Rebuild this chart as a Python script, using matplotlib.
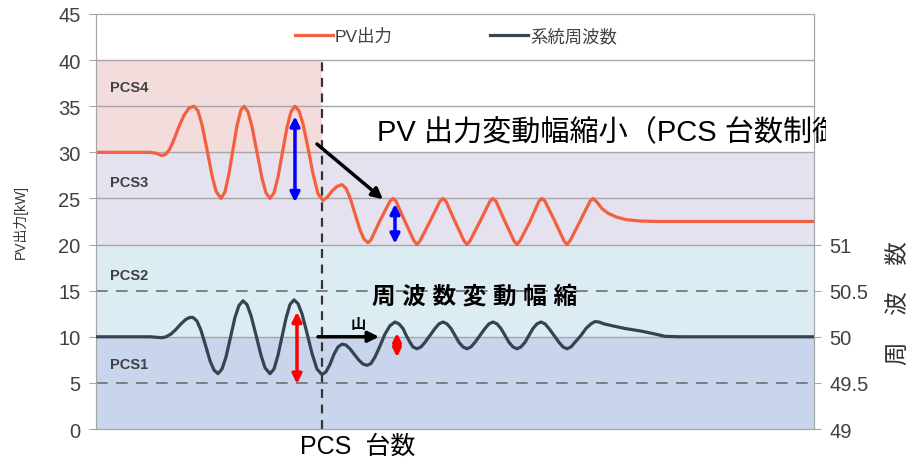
import matplotlib
matplotlib.use("Agg")
import matplotlib.pyplot as plt
from matplotlib.transforms import Bbox

plt.rcParams["font.family"] = ["Liberation Sans", "Noto Sans CJK JP", "DejaVu Sans"]

# time axis (arbitrary units) and PV output [kW]
pv_t = [0, 54, 60, 66, 70, 74, 78, 83, 88, 93,
        98, 102, 106, 111, 116, 120, 125, 129, 133, 137,
        141, 145, 148, 152, 156, 161, 166, 170, 174, 178,
        182, 187, 191, 195, 199, 203, 207, 212, 217, 222,
        227, 231, 236, 241, 246, 250, 254, 259, 264, 268,
        272, 275, 284, 294, 297, 300, 309, 318, 321, 324,
        334, 344, 347, 350, 359, 368, 371, 374, 384, 394,
        397, 400, 409, 418, 421, 424, 434, 443, 446, 449,
        459, 468, 471, 474, 484, 494, 497, 501, 506, 512,
        520, 530, 544, 564, 718]
pv_kw = [30, 30, 29.9, 29.65, 29.8, 30.4, 31.4, 32.8, 34.0, 34.8,
         35, 34.5, 33.0, 30.3, 27.5, 25.8, 25, 25.7, 27.7, 30.3,
         32.9, 34.6, 35, 34.4, 32.8, 30, 27.2, 25.6, 25, 25.6,
         27.3, 30.3, 32.7, 34.4, 35, 34.5, 33.1, 30.5, 27.7, 25.5,
         24.8, 25.1, 25.8, 26.3, 26.5, 26.1, 25.1, 23.35, 21.6, 20.6,
         20.2, 20.5, 22.6, 24.7, 25, 24.7, 22.5, 20.4, 20, 20.4,
         22.5, 24.7, 25, 24.7, 22.5, 20.4, 20, 20.4, 22.5, 24.7,
         25, 24.7, 22.5, 20.4, 20, 20.4, 22.5, 24.7, 25, 24.7,
         22.5, 20.4, 20, 20.4, 22.5, 24.7, 25, 24.6, 23.9, 23.4,
         23.0, 22.7, 22.55, 22.5, 22.5]

# system frequency [Hz]
fq_t = [0, 54, 60, 66, 70, 75, 80, 85, 90, 94,
        97, 101, 105, 110, 114, 118, 122, 126, 130, 134,
        139, 143, 147, 151, 155, 160, 165, 169, 174, 178,
        182, 186, 190, 194, 198, 202, 206, 211, 216, 221,
        226, 230, 234, 238, 242, 246, 250, 254, 259, 263,
        267, 271, 275, 279, 284, 289, 294, 299, 303, 307,
        310, 314, 317, 321, 325, 329, 334, 339, 343, 347,
        351, 355, 359, 363, 367, 371, 375, 379, 384, 389,
        393, 397, 401, 405, 409, 413, 417, 421, 425, 429,
        433, 437, 441, 445, 449, 453, 458, 463, 467, 471,
        475, 479, 485, 490, 495, 499, 503, 508, 516, 529,
        546, 559, 569, 584, 718]
fq_hz = [50, 50, 49.995, 49.99, 50.0, 50.03, 50.08, 50.14, 50.19, 50.21,
         50.21, 50.17, 50.07, 49.89, 49.74, 49.64, 49.6, 49.65, 49.78, 49.97,
         50.21, 50.34, 50.39, 50.35, 50.23, 50.02, 49.8, 49.665, 49.6, 49.65,
         49.8, 50.0, 50.2, 50.35, 50.4, 50.36, 50.25, 50.04, 49.82, 49.65,
         49.59, 49.62, 49.70, 49.81, 49.89, 49.92, 49.91, 49.87, 49.80, 49.745,
         49.705, 49.69, 49.71, 49.78, 49.90, 50.03, 50.12, 50.16, 50.14, 50.09,
         50.02, 49.94, 49.89, 49.87, 49.89, 49.94, 50.015, 50.09, 50.14, 50.16,
         50.14, 50.09, 50.015, 49.94, 49.89, 49.87, 49.89, 49.94, 50.015, 50.09,
         50.14, 50.16, 50.14, 50.09, 50.015, 49.94, 49.89, 49.87, 49.89, 49.94,
         50.015, 50.09, 50.14, 50.16, 50.14, 50.09, 50.015, 49.94, 49.89, 49.87,
         49.89, 49.94, 50.015, 50.09, 50.14, 50.165, 50.16, 50.14, 50.12, 50.09,
         50.06, 50.03, 50.005, 50.0, 50.0]

left_ticks = [0, 5, 10, 15, 20, 25, 30, 35, 40, 45]
right_ticks = [49, 49.5, 50, 50.5, 51]
right_labels = ["49", "49.5", "50", "50.5", "51"]
pcs_labels = ["PCS1", "PCS2", "PCS3", "PCS4"]
pcs_label_y = [7, 16.7, 26.8, 37.1]
t_switch = 226

fig = plt.figure(figsize=(9.15, 4.77), dpi=100)
ax = fig.add_axes([0.1049, 0.0985, 0.7847, 0.8701])
ax2 = ax.twinx()

ax.set_xlim(0, 718)
ax.set_ylim(0, 45)
ax2.set_ylim(49, 53.5)

# PCS bands
ax.axhspan(0, 10, color="#c8d5ec", lw=0, zorder=0)
ax.axhspan(10, 20, color="#dcecf3", lw=0, zorder=0)
ax.axhspan(20, 30, color="#e6e1ee", lw=0, zorder=0)
ax.fill_between([0, t_switch], 30, 40, color="#f3dcdc", lw=0, zorder=0)

for y in [10, 20, 25, 30, 35, 40]:
    ax.axhline(y, color="#a6a6a6", lw=1, zorder=1)
for y in [5, 15]:
    ax.axhline(y, color="#6e6e6e", lw=1.2, ls=(0, (7, 5)), zorder=1)
ax.plot([t_switch, t_switch], [0, 40], color="#333333", lw=1.6, ls=(0, (4, 3)), zorder=2)

for lab, y in zip(pcs_labels, pcs_label_y):
    ax.text(14, y, lab, fontsize=10.5, fontweight="bold", color="#404040", va="center")

l1, = ax.plot(pv_t, pv_kw, color="#f2603f", lw=2.3, zorder=3, label="PV出力",
              solid_joinstyle="round")
l2, = ax2.plot(fq_t, fq_hz, color="#37444f", lw=2.3, zorder=3, label="系統周波数",
               solid_joinstyle="round")

ax.set_yticks(left_ticks)
ax.set_xticks([])
ax2.set_yticks(right_ticks)
ax2.set_yticklabels(right_labels)
for a in (ax, ax2):
    a.tick_params(axis="y", labelsize=14.5, labelcolor="#404040", color="#a6a6a6",
                  length=5, pad=6)
    for s in a.spines.values():
        s.set_color("#a6a6a6")
ax.set_ylabel("PV出力[kW]", fontsize=10, color="#333333", labelpad=22)
fig.text(0.983, 0.365, "周    波    数", rotation=90, fontsize=17, color="#333333",
         ha="center", va="center")

ax2.legend(handles=[l1, l2], loc="center left", bbox_to_anchor=(0.277, 0.947), ncol=2,
           frameon=False, fontsize=12.5, handlelength=2.2, handletextpad=0.1,
           columnspacing=5.6, borderpad=0, borderaxespad=0, labelcolor="#404040")

# arrows
dbl = dict(arrowstyle="<|-|>", lw=2.5, mutation_scale=14, shrinkA=0, shrinkB=0)
ax2.annotate("", xy=(199, 33.9), xytext=(199, 24.6), xycoords=ax.transData,
             textcoords=ax.transData, arrowprops=dict(dbl, color="#0000ff"))
ax2.annotate("", xy=(299, 24.4), xytext=(299, 20.1), xycoords=ax.transData,
             textcoords=ax.transData, arrowprops=dict(dbl, color="#0000ff"))
ax2.annotate("", xy=(201, 12.7), xytext=(201, 4.9), xycoords=ax.transData,
             textcoords=ax.transData, arrowprops=dict(dbl, color="#ff0000"))
ax2.annotate("", xy=(301, 10.4), xytext=(301, 7.8), xycoords=ax.transData,
             textcoords=ax.transData, arrowprops=dict(dbl, color="#ff0000", mutation_scale=12))
one = dict(arrowstyle="-|>", lw=2.5, mutation_scale=16, shrinkA=0, shrinkB=0, color="black")
ax2.annotate("", xy=(287, 24.9), xytext=(221, 30.9), xycoords=ax.transData,
             textcoords=ax.transData, arrowprops=one)
ax2.annotate("", xy=(283, 10.0), xytext=(222, 10.0), xycoords=ax.transData,
             textcoords=ax.transData, arrowprops=one)
ax.text(262, 10.6, "山", fontsize=11, fontweight="bold", ha="center", va="bottom", zorder=5)

txt = fig.text(377 / 915, 1 - 133 / 477, "PV 出力変動幅縮小（PCS 台数制御）", fontsize=21,
               color="black", ha="left", va="center")
txt.set_clip_on(True)
txt.set_clip_box(Bbox.from_extents(0, 0, 826, 477))

ax.text(276, 14.4, "周 波 数 変 動 幅 縮", fontsize=17, fontweight="bold",
        ha="left", va="center", zorder=5)
fig.text(300 / 915, 1 - 447 / 477, "PCS  台数", fontsize=18, ha="left", va="center")

fig.savefig("out.png", dpi=100)
